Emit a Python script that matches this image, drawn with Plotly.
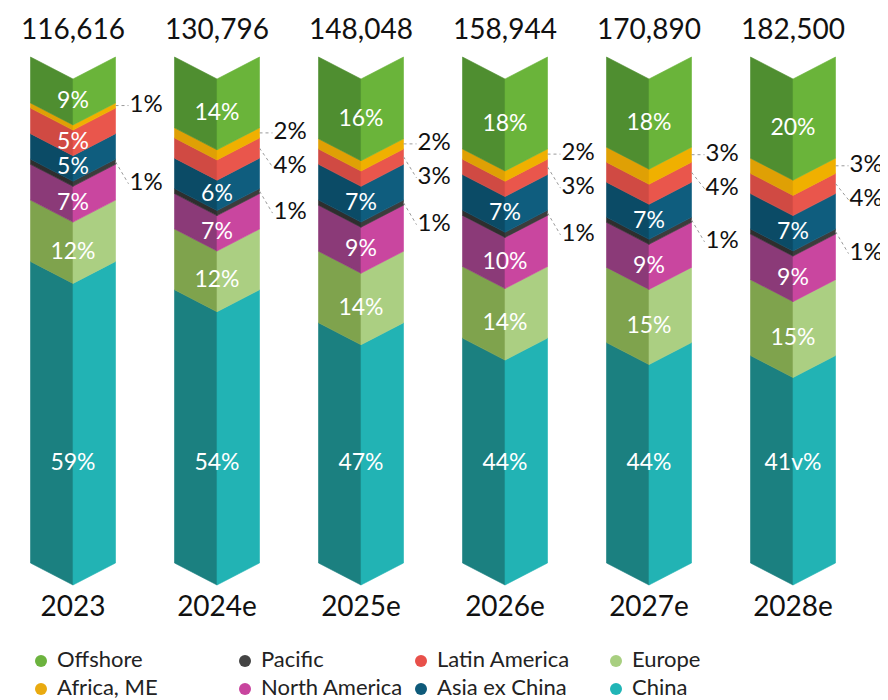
import plotly.graph_objects as go

# ---------------- data ----------------
years = ["2023", "2024e", "2025e", "2026e", "2027e", "2028e"]
totals = [116616, 130796, 148048, 158944, 170890, 182500]

# stacking order bottom -> top
series = ["China", "Europe", "North America", "Pacific", "Asia ex China",
          "Latin America", "Africa, ME", "Offshore"]
china = [59, 54, 47, 44, 44, 41]
europe = [12, 12, 14, 14, 15, 15]
north_america = [7, 7, 9, 10, 9, 9]
pacific = [1, 1, 1, 1, 1, 1]
asia_ex_china = [5, 6, 7, 7, 7, 7]
latin_america = [5, 4, 3, 3, 4, 4]
africa_me = [1, 2, 2, 2, 3, 3]
offshore = [9, 14, 16, 18, 18, 20]
values = [china, europe, north_america, pacific, asia_ex_china,
          latin_america, africa_me, offshore]
china_label_text = ["59%", "54%", "47%", "44%", "44%", "41v%"]

# legend layout order (column-major, as in the picture)
legend_rows = [["Offshore", "Pacific", "Latin America", "Europe"],
               ["Africa, ME", "North America", "Asia ex China", "China"]]

# ---------------- styles ----------------
dark = {"China": "#1b8080", "Europe": "#7fa34d", "North America": "#8b3a78",
        "Pacific": "#2e2e2e", "Asia ex China": "#0b4b66",
        "Latin America": "#d04a43", "Africa, ME": "#dfa005", "Offshore": "#4f8e30"}
light = {"China": "#22b3b4", "Europe": "#abcf82", "North America": "#c9469f",
         "Pacific": "#3c3c3c", "Asia ex China": "#0f5d7e",
         "Latin America": "#e9564c", "Africa, ME": "#f0b000", "Offshore": "#6ab43a"}
dot = {"China": "#20b5b6", "Europe": "#a8cf80", "North America": "#c8449e",
       "Pacific": "#444444", "Asia ex China": "#0e5a7a",
       "Latin America": "#e8504a", "Africa, ME": "#e9aa10", "Offshore": "#6cb33e"}

FONT = "Lato, 'Open Sans', sans-serif"
OFF = 8.0             # page offset of the figure
PX_X = 144.0          # pixels per category
X0 = 73.0 - OFF       # figure pixel centre of the first bar
PX_Y = 5.06           # pixels per percentage point
Y0 = 563.0 - OFF      # figure pixel of 0
W = 42.5 / PX_X       # half bar width (data units)
D = 22.0 / PX_Y       # chevron depth (data units)


def dx(px):
    return (px - OFF - X0) / PX_X


def dy(py):
    return (Y0 - (py - OFF)) / PX_Y


fig = go.Figure()

n = len(years)
sums = [sum(v[i] for v in values) for i in range(n)]

# ---- chevron bars (two halves per segment) ----
for s_idx, name in enumerate(series):
    lx, ly, rx, ry = [], [], [], []
    for i in range(n):
        lo = sum(values[k][i] for k in range(s_idx)) / sums[i] * 100
        hi = lo + values[s_idx][i] / sums[i] * 100
        c = i
        lx += [c - W, c, c, c - W, c - W, None]
        ly += [lo, lo - D, hi - D, hi, lo, None]
        rx += [c, c + W, c + W, c, c, None]
        ry += [lo - D, lo, hi, hi - D, lo - D, None]
    fig.add_trace(go.Scatter(x=lx, y=ly, mode="lines", fill="toself",
                             fillcolor=dark[name], line=dict(color=dark[name], width=0.6),
                             hoverinfo="skip", showlegend=False))
    fig.add_trace(go.Scatter(x=rx, y=ry, mode="lines", fill="toself",
                             fillcolor=light[name], line=dict(color=light[name], width=0.6),
                             hoverinfo="skip", showlegend=False))

# ---- labels ----
in_x, in_y, in_t = [], [], []
out_x, out_y, out_t = [], [], []
lead_x, lead_y = [], []
for i in range(n):
    cum = 0.0
    mids = {}
    for s_idx, name in enumerate(series):
        v = values[s_idx][i]
        lo = cum / sums[i] * 100
        hi = (cum + v) / sums[i] * 100
        cum += v
        mids[name] = (lo + hi) / 2
        if v >= 5:
            in_x.append(i)
            if name == "China":
                in_y.append(dy(464))
                in_t.append(china_label_text[i])
            else:
                in_y.append((lo + hi) / 2 - D)
                in_t.append(f"{v}%")
    # outside labels
    tx = i + W + 14 / PX_X
    ya = mids["Africa, ME"]
    entries = [("Africa, ME", ya)]
    if latin_america[i] < 5:
        entries.append(("Latin America", ya - 34 / PX_Y))
    entries.append(("Pacific", mids["Pacific"] - D))
    for name, yy in entries:
        v = values[series.index(name)][i]
        out_x.append(tx)
        out_y.append(yy)
        out_t.append(f"{v}%")
        lead_x += [i + W, tx - 1 / PX_X, None]
        lead_y += [mids[name], yy, None]

fig.add_trace(go.Scatter(x=lead_x, y=lead_y, mode="lines",
                         line=dict(color="#9a9a9a", width=1, dash="dot"),
                         hoverinfo="skip", showlegend=False))
fig.add_trace(go.Scatter(x=in_x, y=in_y, mode="text", text=in_t, cliponaxis=False,
                         textfont=dict(family=FONT, size=23, color="white"),
                         hoverinfo="skip", showlegend=False))
fig.add_trace(go.Scatter(x=out_x, y=out_y, mode="text", text=out_t, cliponaxis=False,
                         textposition="middle right",
                         textfont=dict(family=FONT, size=24, color="#111111"),
                         hoverinfo="skip", showlegend=False))

# totals on top and year labels at bottom
fig.add_trace(go.Scatter(x=list(range(n)), y=[dy(32)] * n, mode="text", cliponaxis=False,
                         text=[f"{t:,}" for t in totals],
                         textfont=dict(family=FONT, size=28, color="#111111"),
                         hoverinfo="skip", showlegend=False))
fig.add_trace(go.Scatter(x=list(range(n)), y=[dy(609)] * n, mode="text", cliponaxis=False,
                         text=years,
                         textfont=dict(family=FONT, size=28, color="#111111"),
                         hoverinfo="skip", showlegend=False))

# ---- manual legend ----
col_px = [41, 245, 421, 616]
row_px = [661, 689]
for r, row in enumerate(legend_rows):
    for cidx, name in enumerate(row):
        xx = dx(col_px[cidx])
        yy = dy(row_px[r])
        fig.add_trace(go.Scatter(x=[xx], y=[yy], mode="markers", cliponaxis=False,
                                 marker=dict(size=12, color=dot[name]),
                                 hoverinfo="skip", showlegend=False))
        fig.add_trace(go.Scatter(x=[xx + 16 / PX_X], y=[yy], mode="text", cliponaxis=False,
                                 text=[name], textposition="middle right",
                                 textfont=dict(family=FONT, size=22, color="#222222"),
                                 hoverinfo="skip", showlegend=False))

fig.add_annotation(x=dx(826), y=dy(709), text="16",
                   showarrow=False, font=dict(family=FONT, size=22, color="#888888"))

fig.update_layout(
    width=888, height=700,
    margin=dict(l=0, r=0, t=0, b=0),
    paper_bgcolor="white", plot_bgcolor="white",
    xaxis=dict(range=[-X0 / PX_X, (888 - X0) / PX_X], visible=False, fixedrange=True),
    yaxis=dict(range=[(Y0 - 700) / PX_Y, Y0 / PX_Y], visible=False, fixedrange=True),
    showlegend=False,
)

fig.write_html("out.html")
